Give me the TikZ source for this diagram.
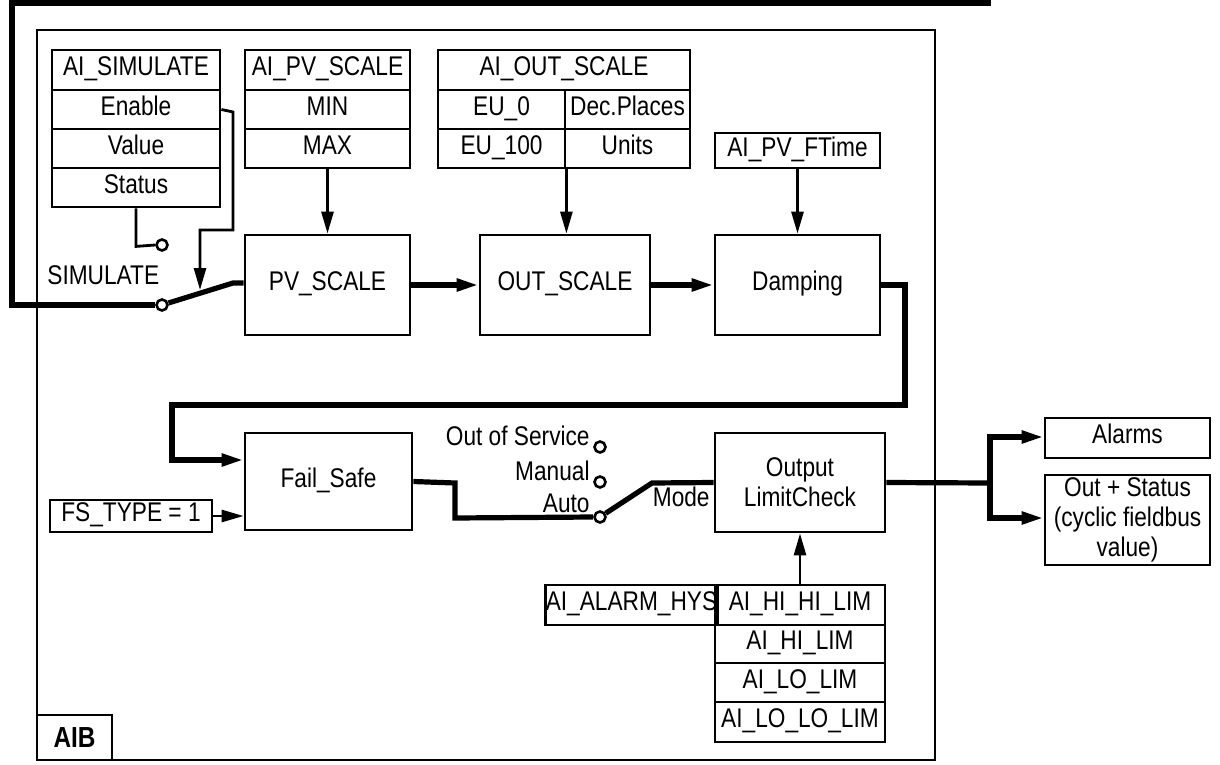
\documentclass[tikz,border=0pt]{standalone}
\usepackage{fontspec}
\setmainfont{Liberation Sans}[FakeStretch=0.84]
\usetikzlibrary{arrows.meta,calc}
\newcommand{\bx}[7][]{%
 \pgfmathsetmacro{\cxx}{(#3+#5)/2}\pgfmathsetmacro{\cyy}{(#4+#6)/2}%
 \pgfmathsetmacro{\ww}{(#5-#3)*0.5}\pgfmathsetmacro{\hh}{(#6-#4)*0.5}%
 \node[box,minimum width=\ww pt,minimum height=\hh pt,#1] (#2) at (\cxx,\cyy) {#7};}
\begin{document}
\begin{tikzpicture}[x=0.5pt,y=-0.5pt,
 box/.style={draw,line width=1.4pt,inner sep=0pt,align=center,font=\fontsize{13.5}{15}\selectfont},
 one/.style={text height=1.4ex,text depth=0.3ex},
 thin/.style={line width=1.4pt},
 thick/.style={line width=2.6pt},
 tip/.style={-{Triangle[length=11pt,width=6pt]}},
 sw/.style={circle,draw,line width=1.3pt,fill=white,inner sep=0pt,minimum size=5.5pt},
 lbl/.style={font=\fontsize{13.5}{15}\selectfont,inner sep=1pt}]
\useasboundingbox (0,0) rectangle (1220,765);
% AIB frame
\bx[line width=1.2pt]{aib}{37}{30}{935}{760}{}
\bx{aiblbl}{37}{715}{112}{760}{\fontsize{14.5}{16}\selectfont\textbf{AIB}}
% AI_SIMULATE
\bx[one]{s0}{52}{50}{220}{90}{AI\_SIMULATE}
\bx[one]{s1}{52}{90}{220}{129}{Enable}
\bx[one]{s2}{52}{129}{220}{168}{Value}
\bx[one]{s3}{52}{168}{220}{207}{Status}
% AI_PV_SCALE
\bx[one]{p0}{245}{50}{410}{90}{AI\_PV\_SCALE}
\bx[one]{p1}{245}{90}{410}{129}{MIN}
\bx[one]{p2}{245}{129}{410}{168}{MAX}
% AI_OUT_SCALE
\bx[one]{o0}{438}{50}{690}{90}{AI\_OUT\_SCALE}
\bx[one]{o1}{438}{90}{565}{129}{EU\_0}
\bx[one]{o2}{565}{90}{690}{129}{Dec.Places}
\bx[one]{o3}{438}{129}{565}{168}{EU\_100}
\bx[one]{o4}{565}{129}{690}{168}{Units}
\bx[one]{ft}{715}{133}{880}{168}{AI\_PV\_FTime}
% main boxes
\bx[one]{pv}{245}{235}{410}{335}{PV\_SCALE}
\bx[one]{os}{480}{235}{650}{335}{OUT\_SCALE}
\bx[one]{dm}{715}{235}{880}{335}{Damping}
\bx[one]{fs}{245}{433}{412}{530}{Fail\_Safe}
\bx[one]{fst}{50}{500}{212}{532}{FS\_TYPE = 1}
\bx{ol}{715}{433}{885}{532}{Output\\LimitCheck}
\bx[one]{al}{1045}{418}{1210}{458}{Alarms}
\bx{out}{1045}{475}{1210}{565}{Out + Status\\(cyclic fieldbus\\value)}
\bx[one]{hys}{548}{585}{715}{625}{AI\_ALARM\_HYS}
\bx[one]{l1}{715}{585}{885}{625}{AI\_HI\_HI\_LIM}
\bx[one]{l2}{715}{625}{885}{663}{AI\_HI\_LIM}
\bx[one]{l3}{715}{663}{885}{702}{AI\_LO\_LIM}
\bx[one]{l4}{715}{702}{885}{742}{AI\_LO\_LO\_LIM}
% simulate switch
\node[sw] (piv) at (162,305) {};
\node[sw] (stc) at (162,245) {};
\coordinate (lev) at (233,283);
\coordinate (enA) at (200,290);
\draw[thick] (988,-5) -- (988,3) -- (12,3) -- (12,305) -- (piv.west);
\draw[thick] (piv) -- (lev) -- (pv.west|-lev);
\draw[thin] (s3.south) -- ++(0,38) -- (stc.west);
\draw[thin,tip] (s1.east) -- (233,112) -- (233,230) -- (200,230) -- (enA);
\node[lbl,anchor=base west] (simlbl) at (45,284) {SIMULATE};
% parameter arrows
\draw[thin,tip] (p2.south) -- (pv.north);
\draw[thin,tip] (o3.south east) -- (os.north-|o3.south east);
\draw[thin,tip] (ft.south) -- (dm.north);
% chain
\draw[thick,tip] (pv.east) -- (os.west);
\draw[thick,tip] (os.east) -- (dm.west);
\draw[thick,tip] (dm.east) -- (905,285) -- (905,405) -- (172,405) -- (172,460) -- (fs.west|-0,460);
\draw[thin,tip] (fst.east) -- (fs.west|-fst.east);
% mode switch
\node[sw] (auto) at (600,517) {};
\node[sw] (man) at (600,482) {};
\node[sw] (oos) at (600,447) {};
\node[lbl,anchor=base east] (oosl) at (592,445) {Out of Service};
\node[lbl,anchor=base east] (manl) at (592,480) {Manual};
\node[lbl,anchor=base east] (autl) at (592,512) {Auto};
\node[lbl,anchor=base east] (model) at (712,506) {Mode};
\draw[thick] (fs.east) -- (455,483) -- (455,518) -- (auto.west);
\draw[thick] (auto) -- (652,483) -- (ol.west);
% outputs
\coordinate (br) at (990,483);
\draw[thick] (ol.east) -- (br);
\draw[thick,tip] (br) -- (990,437) -- (al.west|-0,437);
\draw[thick,tip] (br) -- (990,518) -- (out.west|-0,518);
\draw[thin,tip] (l1.north) -- (ol.south);
\end{tikzpicture}
\end{document}
